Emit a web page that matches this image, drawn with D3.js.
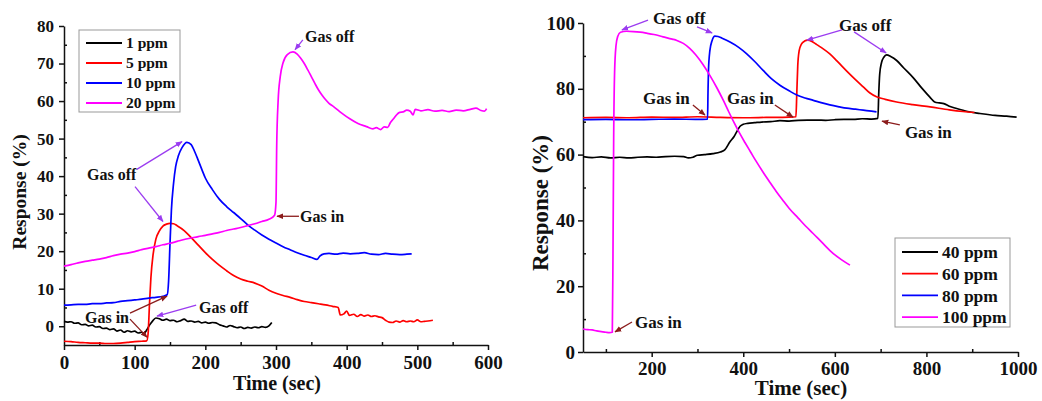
<!DOCTYPE html>
<html>
<head>
<meta charset="utf-8">
<script src="https://cdn.jsdelivr.net/npm/d3@7"></script>
<style>
  body { margin: 0; background: #fff; }
  svg text { font-family: "Liberation Serif", "Times New Roman", serif; font-weight: bold; fill: #111; }
</style>
</head>
<body>
<svg id="svg-chart"></svg>
<script>
// ---- left panel: 1-20 ppm runs (time in sec, response in %) ----
const ppm1 = [[0,1.3],[5,1.1],[10,1.2],[15,0.8],[20,0.9],[25,0.4],[30,0.5],[35,0.1],[40,0.3],[45,-0.2],[50,-0.1],[55,-0.6],[60,-0.5],[65,-0.9],[70,-0.7],[75,-1.3],[80,-1.0],[85,-1.6],[90,-1.2],[95,-1.5],[100,-1.3],[105,-1.8],[110,-1.6],[113,-2.0],[117,-1.0],[121,0.3],[125,1.3],[130,2.2],[135,2.0],[140,1.6],[145,1.9],[150,1.5],[155,1.6],[160,1.2],[165,1.5],[170,1.9],[175,1.3],[180,1.4],[185,1.1],[190,1.3],[195,0.9],[200,1.1],[205,0.8],[210,1.0],[215,0.9],[220,0.4],[225,0.1],[230,-0.2],[235,0.2],[240,-0.1],[245,-0.4],[250,-0.2],[255,-0.6],[260,-0.3],[265,-0.5],[270,-0.2],[275,-0.4],[280,-0.1],[285,-0.3],[290,0.1],[294,1.0]];
const ppm5 = [[0,-4.0],[10,-4.1],[20,-4.3],[30,-4.4],[40,-4.5],[50,-4.5],[60,-4.6],[70,-4.6],[80,-4.5],[90,-4.3],[100,-4.1],[110,-4.0],[117,-3.9],[119,-2],[121,6],[123,13],[126,19],[130,23.2],[135,25.4],[140,26.7],[145,27.2],[150,27.4],[155,27.3],[160,26.8],[170,25.5],[180,23.6],[190,21.6],[200,19.6],[210,17.8],[220,16.2],[230,14.8],[240,13.5],[250,12.6],[260,12.0],[270,11.5],[280,10.7],[290,9.6],[300,8.8],[310,8.2],[320,7.7],[330,7.1],[340,6.6],[350,6.3],[360,6.0],[370,5.7],[380,5.3],[388,5.0],[391,3.0],[396,3.3],[400,4.0],[404,2.9],[410,3.2],[415,2.6],[420,3.1],[425,2.7],[430,3.0],[435,2.6],[440,2.8],[445,2.5],[450,2.3],[455,1.6],[460,1.1],[465,1.0],[470,1.4],[475,1.1],[480,1.5],[485,1.2],[490,1.4],[495,1.2],[500,1.7],[505,1.2],[510,1.3],[515,1.4],[522,1.6]];
const ppm10 = [[0,5.6],[10,5.7],[20,5.8],[30,5.8],[40,6.0],[50,6.0],[60,6.2],[70,6.3],[80,6.6],[90,6.8],[100,7.0],[110,7.2],[120,7.5],[130,7.7],[140,8.0],[146,8.4],[148,12],[150,22],[152,31],[155,38],[158,42.5],[162,45.5],[167,47.6],[174,49.0],[180,48.4],[185,46.5],[190,44.2],[195,41.8],[200,39.5],[210,36.4],[220,33.8],[230,31.9],[240,30.3],[250,28.7],[260,27.0],[270,25.6],[280,24.3],[290,23.2],[300,22.2],[310,21.2],[320,20.4],[330,19.6],[340,18.9],[350,18.3],[358,17.8],[362,18.7],[368,19.3],[375,19.4],[385,19.2],[395,19.5],[405,19.3],[415,19.4],[425,19.6],[435,19.2],[445,19.1],[455,19.4],[465,19.2],[475,19.1],[485,19.2],[492,19.3]];
const ppm20 = [[0,16.0],[10,16.4],[20,16.9],[30,17.3],[40,17.6],[50,17.9],[60,18.3],[70,18.8],[80,19.2],[90,19.5],[100,19.9],[110,20.4],[120,20.8],[130,21.2],[140,21.7],[150,22.1],[160,22.6],[170,23.1],[180,23.5],[190,23.9],[200,24.2],[210,24.6],[220,25.0],[230,25.5],[240,25.9],[250,26.3],[260,26.8],[270,27.3],[280,27.9],[290,28.5],[298,29.6],[300,33],[301,48],[303,60],[306,66.5],[310,70.2],[316,72.4],[324,73.1],[330,72.5],[335,71.4],[340,70.0],[345,68.3],[350,66.5],[355,64.7],[360,63.0],[365,61.6],[370,60.4],[375,59.4],[381,58.6],[393,56.8],[405,55.2],[416,54],[428,53.2],[437,52.6],[442,52.9],[448,52.4],[453,53.1],[458,53.0],[462,54.3],[466,55.2],[470,56.2],[475,57.0],[480,57.1],[485,57.6],[490,57.3],[494,56.3],[497,57.8],[505,57.4],[515,57.7],[525,57.3],[535,57.5],[545,57.2],[555,57.6],[565,57.4],[575,57.8],[583,58.1],[590,57.5],[595,57.3],[598,58.0]];

// ---- right panel: 40-100 ppm runs ----
const ppm40 = [[50,59.4],[70,59.1],[90,59.3],[110,59.0],[130,59.2],[150,59.0],[170,59.2],[190,59.3],[210,59.2],[230,59.4],[250,59.5],[270,59.4],[280,59.0],[290,59.2],[300,59.8],[315,60.0],[334,60.3],[350,60.8],[360,61.5],[371,63.9],[380,65.5],[386,67.0],[393,68.6],[400,69.2],[410,69.5],[425,69.7],[440,69.9],[460,70.0],[480,70.3],[500,70.2],[520,70.4],[540,70.5],[560,70.5],[580,70.4],[600,70.6],[620,70.7],[640,70.7],[660,70.9],[680,70.8],[694,71.0],[696,79],[698,84.5],[702,88],[707,89.6],[713,90.3],[722,89.8],[735,88.6],[750,86.4],[771,83.4],[790,80.2],[808,77.4],[818,76.0],[828,75.7],[838,75.5],[850,74.7],[866,74.0],[890,73.1],[917,72.5],[950,71.9],[975,71.7],[997,71.4]];
const ppm60 = [[50,71.2],[100,71.3],[150,71.2],[200,71.4],[250,71.3],[300,71.5],[350,71.3],[400,71.2],[450,71.3],[500,71.4],[515,71.5],[517,79],[519,87],[522,91.5],[527,93.6],[534,94.5],[541,94.8],[550,94.4],[560,93.5],[570,92.6],[589,90.6],[605,88.4],[626,85.4],[645,82.8],[662,80.6],[676,78.8],[691,77.6],[710,76.8],[735,76.0],[770,75.2],[808,74.5],[850,73.6],[880,73.1],[905,72.8]];
const ppm80 = [[50,70.6],[100,70.7],[150,70.6],[200,70.7],[250,70.8],[300,70.7],[322,70.8],[323,79],[324,85.5],[327,91.5],[332,94.7],[338,96.0],[345,95.9],[355,95.3],[371,94.2],[390,92.6],[407,90.7],[425,88.3],[444,85.5],[462,83.0],[480,81.1],[500,79.4],[517,78.1],[535,77.2],[553,76.5],[570,75.8],[589,75.1],[610,74.5],[626,74.1],[645,73.8],[662,73.5],[680,73.2],[691,73.0]];
const ppm100 = [[50,7.0],[60,6.8],[70,6.7],[80,6.4],[90,6.2],[100,6.0],[108,5.9],[114,6.0],[115.5,30],[117,65],[119,85],[122,93],[126,96],[132,97.2],[145,97.5],[160,97.4],[175,97.2],[189,96.9],[205,96.5],[225,95.8],[245,95.1],[255,94.7],[269,93.8],[283,92.3],[297,90.2],[312,87.4],[327,84.1],[342,80.4],[356,76.6],[368,73.1],[380,69.7],[392,66.5],[404,63.6],[416,60.8],[428,58.0],[443,54.7],[458,51.6],[472,48.8],[486,46.2],[500,43.7],[520,40.7],[536,38.3],[552,36.1],[574,33.0],[596,30.0],[615,28.0],[633,26.4]];

const leftLabels = ["1 ppm", "5 ppm", "10 ppm", "20 ppm"];
const rightLabels = ["40 ppm", "60 ppm", "80 ppm", "100 ppm"];
const leftXTicks = [0, 100, 200, 300, 400, 500, 600];
const leftYTicks = [0, 10, 20, 30, 40, 50, 60, 70, 80];
const rightXTicks = [200, 400, 600, 800, 1000];
const rightYTicks = [0, 20, 40, 60, 80, 100];

const colors = ["#000000", "#ff0000", "#0000ff", "#ff00ff"];
const offColor = "#9b3cf0";
const inColor = "#8b1c1c";

const svg = d3.select("#svg-chart").attr("width", 1042).attr("height", 401);

const defs = svg.append("defs");
[["head-off", offColor], ["head-in", inColor]].forEach(function (m) {
  defs.append("marker")
    .attr("id", m[0])
    .attr("viewBox", "0 0 10 10")
    .attr("refX", 9).attr("refY", 5)
    .attr("markerWidth", 7).attr("markerHeight", 7)
    .attr("markerUnits", "userSpaceOnUse")
    .attr("orient", "auto")
    .append("path").attr("d", "M0,1L10,5L0,9Z").attr("fill", m[1]);
});

function drawPanel(p) {
  const g = svg.append("g");
  const x = d3.scaleLinear().domain(p.xDomain).range(p.xRange);
  const y = d3.scaleLinear().domain(p.yDomain).range(p.yRange);
  const x0 = p.xRange[0], y0 = p.yRange[0];

  // minor ticks point inward
  g.append("g").attr("transform", "translate(0," + y0 + ")")
    .call(d3.axisBottom(x).tickValues(p.xMinor).tickSize(-3).tickFormat(""))
    .call(s => s.select(".domain").remove());
  g.append("g").attr("transform", "translate(" + x0 + ",0)")
    .call(d3.axisLeft(y).tickValues(p.yMinor).tickSize(-3).tickFormat(""))
    .call(s => s.select(".domain").remove());

  const xAxis = g.append("g").attr("transform", "translate(0," + y0 + ")")
    .call(d3.axisBottom(x).tickValues(p.xTicks).tickFormat(d3.format("d"))
      .tickSize(5).tickSizeOuter(0).tickPadding(p.xPad));
  xAxis.selectAll("text").attr("font-size", p.xTickFont);
  const yAxis = g.append("g").attr("transform", "translate(" + x0 + ",0)")
    .call(d3.axisLeft(y).tickValues(p.yTicks).tickFormat(d3.format("d"))
      .tickSize(5).tickSizeOuter(0).tickPadding(p.yPad));
  yAxis.selectAll("text").attr("font-size", p.yTickFont);
  g.selectAll(".tick line, .domain").attr("stroke", "#111").attr("stroke-width", 1.5);
  g.selectAll(".tick text").attr("fill", "#111").attr("font-family", null);

  const line = d3.line().x(d => x(d[0])).y(d => y(d[1])).curve(d3.curveMonotoneX);
  g.selectAll(".run").data(p.series).join("path")
    .attr("class", "run")
    .attr("fill", "none")
    .attr("stroke", (d, i) => colors[i])
    .attr("stroke-width", 1.7)
    .attr("stroke-linejoin", "round")
    .attr("d", d => line(d));

  // axis titles
  g.append("text")
    .attr("x", p.xTitle[0]).attr("y", p.xTitle[1])
    .attr("text-anchor", "middle").attr("font-size", p.xTitle[2])
    .text("Time (sec)");
  g.append("text")
    .attr("transform", "translate(" + p.yTitle[0] + "," + p.yTitle[1] + ") rotate(-90)")
    .attr("text-anchor", "middle").attr("dominant-baseline", "central")
    .attr("font-size", p.yTitle[2])
    .text("Response (%)");

  // annotations: label + arrows, placed in data units
  p.notes.forEach(function (n) {
    const isOff = n.text === "Gas off";
    g.append("text")
      .attr("x", x(n.at[0])).attr("y", y(n.at[1]))
      .attr("dy", "0.35em")
      .attr("font-size", p.noteFont)
      .text(n.text);
    n.arrows.forEach(function (a) {
      g.append("line")
        .attr("x1", x(a[0])).attr("y1", y(a[1]))
        .attr("x2", x(a[2])).attr("y2", y(a[3]))
        .attr("stroke", isOff ? offColor : inColor)
        .attr("stroke-width", 1.3)
        .attr("marker-end", isOff ? "url(#head-off)" : "url(#head-in)");
    });
  });

  // legend
  const L = p.legend;
  g.append("rect")
    .attr("x", L.x).attr("y", L.y).attr("width", L.w).attr("height", L.h)
    .attr("fill", "#fff").attr("stroke", "#999").attr("stroke-width", 1);
  const rows = g.selectAll(".leg").data(p.labels).join("g")
    .attr("class", "leg")
    .attr("transform", (d, i) => "translate(" + (L.x + 7) + "," + (L.y + L.first + i * L.step) + ")");
  rows.append("line").attr("x1", 0).attr("x2", 36)
    .attr("stroke", (d, i) => colors[i]).attr("stroke-width", 1.8);
  rows.append("text").attr("x", 40).attr("dy", "0.35em")
    .attr("font-size", L.font).text(d => d);
}

drawPanel({
  xDomain: [0, 600], xRange: [64, 488],
  yDomain: [-5, 80], yRange: [345, 26],
  xTicks: leftXTicks, yTicks: leftYTicks,
  xMinor: d3.range(50, 600, 100), yMinor: d3.range(5, 80, 10),
  xPad: 6, yPad: 5, xTickFont: 19, yTickFont: 17,
  xTitle: [277, 390, 20], yTitle: [19, 192, 19.5],
  series: [ppm1, ppm5, ppm10, ppm20],
  labels: leftLabels,
  legend: { x: 79, y: 30, w: 101, h: 82, first: 13, step: 20, font: 15.5 },
  noteFont: 16,
  notes: [
    { text: "Gas off", at: [32.5, 40.4], arrows: [[103, 41.8, 167, 49.2], [100.5, 37.2, 140, 27.9]] },
    { text: "Gas off", at: [191, 5.1], arrows: [[187, 5.6, 131.6, 2.7]] },
    { text: "Gas in", at: [29.7, 2.4], arrows: [[93.4, 3.5, 145.7, 8.0], [93.4, 1.9, 117.4, -2.9]] },
    { text: "Gas in", at: [334, 29.3], arrows: [[332.5, 29.3, 301.4, 29.3]] },
    { text: "Gas off", at: [341, 77.1], arrows: [[338, 76.3, 327, 73.7]] }
  ]
});

drawPanel({
  xDomain: [50, 1000], xRange: [583, 1018],
  yDomain: [0, 100], yRange: [352, 23],
  xTicks: rightXTicks, yTicks: rightYTicks,
  xMinor: d3.range(100, 1000, 200), yMinor: d3.range(10, 100, 20),
  xPad: 5, yPad: 3, xTickFont: 19, yTickFont: 19,
  xTitle: [801, 395, 21], yTitle: [540, 203, 23],
  series: [ppm40, ppm60, ppm80, ppm100],
  labels: rightLabels,
  legend: { x: 895, y: 238, w: 115, h: 89, first: 14, step: 21.7, font: 17.5 },
  noteFont: 17,
  notes: [
    { text: "Gas off", at: [203, 101.4], arrows: [[192, 100.9, 135, 97.9], [299, 98.8, 332, 97.0]] },
    { text: "Gas off", at: [609, 99.4], arrows: [[615.6, 97.9, 539, 94.8], [642, 97.3, 712, 90.9]] },
    { text: "Gas in", at: [181, 77.2], arrows: [[290, 75.1, 316.4, 72.0]] },
    { text: "Gas in", at: [364.5, 77.2], arrows: [[469, 75.1, 508.6, 71.4]] },
    { text: "Gas in", at: [753, 66.9], arrows: [[742, 69.0, 703, 70.2]] },
    { text: "Gas in", at: [163.6, 9.1], arrows: [[157, 9.1, 119.9, 6.1]] }
  ]
});
</script>
</body>
</html>
